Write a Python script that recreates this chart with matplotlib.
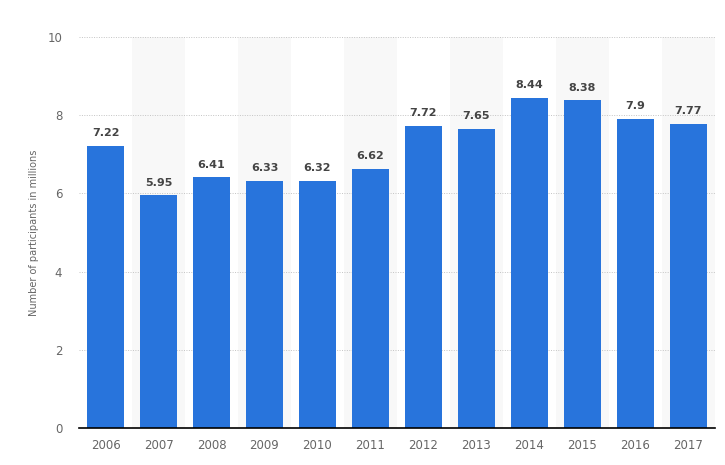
import matplotlib
matplotlib.use("Agg")
import matplotlib.pyplot as plt
import numpy as np

years = ["2006", "2007", "2008", "2009", "2010", "2011", "2012", "2013", "2014", "2015", "2016", "2017"]
values = [7.22, 5.95, 6.41, 6.33, 6.32, 6.62, 7.72, 7.65, 8.44, 8.38, 7.9, 7.77]
labels = ["7.22", "5.95", "6.41", "6.33", "6.32", "6.62", "7.72", "7.65", "8.44", "8.38", "7.9", "7.77"]
yticks = [0, 2, 4, 6, 8, 10]

plt.rcParams['font.family'] = ['DejaVu Sans']
fig = plt.figure(figsize=(7.25, 4.65), dpi=100)
ax = fig.add_axes([0.109, 0.0796, 0.877, 0.8408])

x = np.arange(len(years))
for i in x:
    if i % 2 == 1:
        ax.axvspan(i - 0.5, i + 0.5, ymin=0, ymax=1, color="#f8f8f8", zorder=0, lw=0)

ax.bar(x, values, width=0.7, color="#2874dc", zorder=3)
for xi, v, lab in zip(x, values, labels):
    ax.text(xi, v + 0.2, lab, ha="center", va="bottom", fontsize=8, fontweight="bold", color="#444444", zorder=4)

ax.set_xlim(-0.5, len(years) - 0.5)
ax.set_ylim(0, 10)
ax.set_yticks(yticks)
ax.set_yticklabels([str(t) for t in yticks])
ax.set_xticks(x)
ax.set_xticklabels(years)
ax.yaxis.grid(True, linestyle=(0, (1, 1.5)), color="#c4c4c4", linewidth=0.7, zorder=1)
ax.set_axisbelow(True)
for s in ["top", "right", "left"]:
    ax.spines[s].set_visible(False)
ax.spines["bottom"].set_color("#000000")
ax.spines["bottom"].set_linewidth(1.2)
ax.spines["bottom"].set_zorder(5)
ax.tick_params(axis="both", length=0, labelsize=8.5, labelcolor="#666666")
ax.tick_params(axis="y", pad=12)
ax.tick_params(axis="x", pad=8)
ax.set_ylabel("Number of participants in millions", fontsize=7, color="#666666", labelpad=6)

fig.savefig("out.png", dpi=100)
